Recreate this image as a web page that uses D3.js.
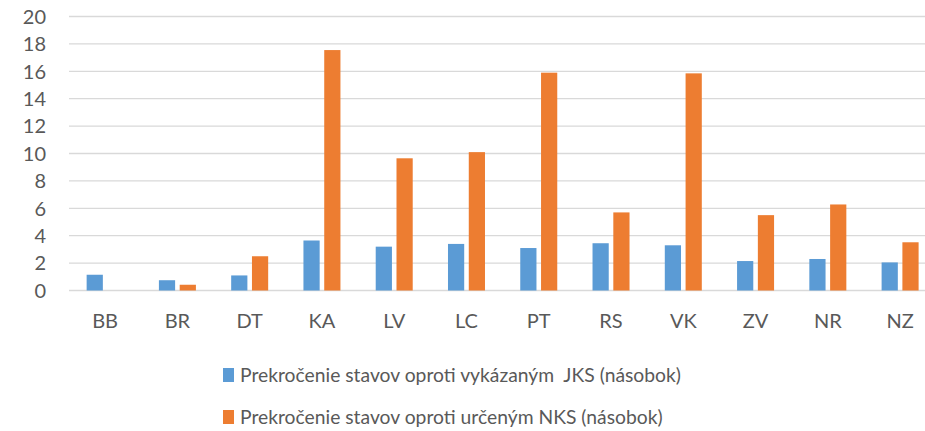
<!DOCTYPE html>
<html>
<head>
<meta charset="utf-8">
<script src="https://cdn.jsdelivr.net/npm/d3@7"></script>
<style>
  body { margin: 0; background: #fff; }
  svg { display: block; font-family: Lato, "Open Sans", sans-serif; }
</style>
</head>
<body>
<svg id="chart" width="925" height="431"></svg>
<script>
// data
var categories = ["BB", "BR", "DT", "KA", "LV", "LC", "PT", "RS", "VK", "ZV", "NR", "NZ"];
var jks = [1.15, 0.75, 1.1, 3.65, 3.2, 3.4, 3.1, 3.45, 3.3, 2.15, 2.3, 2.05];
var nks = [null, 0.42, 2.5, 17.55, 9.65, 10.1, 15.9, 5.7, 15.85, 5.5, 6.28, 3.52];
var seriesNames = ["Prekročenie stavov oproti vykázaným  JKS (násobok)",
                   "Prekročenie stavov oproti určeným NKS (násobok)"];
var yTicks = [0, 2, 4, 6, 8, 10, 12, 14, 16, 18, 20];

var colors = ["#5B9BD5", "#ED7D31"];

var svg = d3.select("#chart");
var margin = { top: 16.5, left: 69, bottom: 140.5 };
var h = 431 - margin.top - margin.bottom;
var plotW = 72.27 * 12;

var x0 = d3.scaleBand().domain(categories).range([0, plotW]).paddingInner(0).paddingOuter(0);
var x1 = d3.scaleBand().domain([0, 1]).range([x0.bandwidth() / 2 - 18.5, x0.bandwidth() / 2 + 18.5]).paddingInner(0.22);
var y = d3.scaleLinear().domain([0, 20]).range([h, 0]);

var g = svg.append("g").attr("transform", "translate(" + margin.left + "," + margin.top + ")");

// gridlines
g.selectAll("line.grid").data(yTicks).enter().append("line")
  .attr("class", "grid")
  .attr("x1", 0).attr("x2", plotW)
  .attr("y1", function (d) { return y(d); })
  .attr("y2", function (d) { return y(d); })
  .attr("stroke", "#D9D9D9")
  .attr("stroke-width", 1.3);

// y labels
g.selectAll("text.ytick").data(yTicks).enter().append("text")
  .attr("class", "ytick")
  .attr("x", -23)
  .attr("y", function (d) { return y(d); })
  .attr("dy", "0.36em")
  .attr("text-anchor", "end")
  .attr("fill", "#595959")
  .style("font-size", "20px")
  .text(function (d) { return d; });

// bars
var rows = categories.map(function (c, i) { return { cat: c, vals: [jks[i], nks[i]] }; });
var grp = g.selectAll("g.cat").data(rows).enter().append("g")
  .attr("class", "cat")
  .attr("transform", function (d) { return "translate(" + x0(d.cat) + ",0)"; });

grp.selectAll("rect").data(function (d) {
    return d.vals.map(function (v, k) { return { k: k, v: v }; }).filter(function (e) { return e.v != null; });
  })
  .enter().append("rect")
  .attr("x", function (d) { return x1(d.k); })
  .attr("width", x1.bandwidth())
  .attr("y", function (d) { return y(d.v); })
  .attr("height", function (d) { return y(0) - y(d.v); })
  .attr("fill", function (d) { return colors[d.k]; });

// x labels
g.selectAll("text.xtick").data(categories).enter().append("text")
  .attr("class", "xtick")
  .attr("x", function (d) { return x0(d) + x0.bandwidth() / 2; })
  .attr("y", h + 37)
  .attr("text-anchor", "middle")
  .attr("fill", "#595959")
  .style("font-size", "20px")
  .text(function (d) { return d; });

// legend
var leg = svg.selectAll("g.legend").data(seriesNames).enter().append("g")
  .attr("class", "legend")
  .attr("transform", function (d, i) { return "translate(223," + (368 + i * 42) + ")"; });
leg.append("rect").attr("width", 11).attr("height", 14)
  .attr("fill", function (d, i) { return colors[i]; });
leg.append("text")
  .attr("x", 17).attr("y", 7).attr("dy", "0.36em")
  .attr("fill", "#595959")
  .style("font-size", "19.3px")
  .style("white-space", "pre")
  .attr("xml:space", "preserve")
  .text(function (d) { return d; });
</script>
</body>
</html>
